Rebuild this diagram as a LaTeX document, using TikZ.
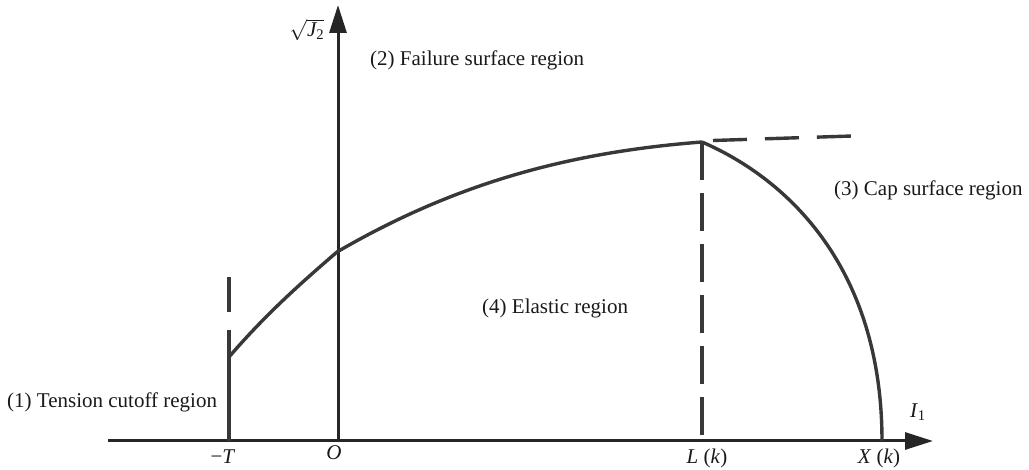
\documentclass[tikz,border=0pt]{standalone}
\usepackage{fix-cm}
\usepackage{amsmath}
\usepackage{fontspec}
\setmainfont{Liberation Serif}
\usetikzlibrary{arrows.meta}

\begin{document}
\begin{tikzpicture}[x=1pt, y=-1pt,
    axis/.style={line width=3pt, draw=black!85, -{Triangle[length=28pt,width=17pt]}},
    yield/.style={line width=3.4pt, draw=black!78},
    guide/.style={yield, dash pattern=on 38pt off 13pt},
    lbl/.style={font=\fontsize{21}{25}\selectfont, inner sep=0pt, text=black!90}
  ]
  \useasboundingbox (0,0) rectangle (1029,470);

  % axes
  \coordinate (orig) at (338,441);
  \coordinate (xbeg) at (108,441);
  \coordinate (xtip) at (933,441);
  \coordinate (ytip) at (338,5);
  \draw[axis] (xbeg) -- (xtip);
  \draw[axis] (orig) -- (ytip);

  % key points
  \coordinate (tneg) at (229,441);
  \coordinate (tcut) at (229,330);
  \coordinate (tbot) at (229,357);
  \coordinate (ycut) at (337,252);
  \coordinate (peak) at (702,142);
  \coordinate (lk) at (702,435);
  \coordinate (xk) at (882,441);

  % failure surface
  \draw[yield] (tbot) .. controls (266,314) and (301,283) .. (ycut)
    .. controls (457,182) and (572,152) .. (peak);
  % cap surface
  \draw[yield] (peak) .. controls (790,180) and (882,270) .. (xk);
  % tension cutoff
  \draw[yield] (tneg) -- (tcut);
  \draw[yield] (229,277) -- (229,312);
  % dashed guides
  \draw[guide] (peak) -- (lk);
  \draw[yield, dash pattern=on 34pt off 18pt] (713,140.5) -- (852,136);

  % labels
  \node[lbl] (j2) at (307,30) {$\sqrt{\textit{J}_{\text{2}}}$};
  \node[lbl] (i1) at (918,412) {\textit{I}\textsubscript{1}};
  \node[lbl] (mt) at (223,457) {−\textit{T}};
  \node[lbl] (oo) at (334,453) {\textit{O}};
  \node[lbl] (ll) at (707,458) {\textit{L} (\textit{k})};
  \node[lbl] (xx) at (879,458) {\textit{X} (\textit{k})};
  \node[lbl, anchor=west] (r1) at (7,402) {(1) Tension cutoff region};
  \node[lbl, anchor=west] (r2) at (370,60) {(2) Failure surface region};
  \node[lbl, anchor=west] (r3) at (834,190) {(3) Cap surface region};
  \node[lbl, anchor=west] (r4) at (482,308) {(4) Elastic region};
\end{tikzpicture}
\end{document}
